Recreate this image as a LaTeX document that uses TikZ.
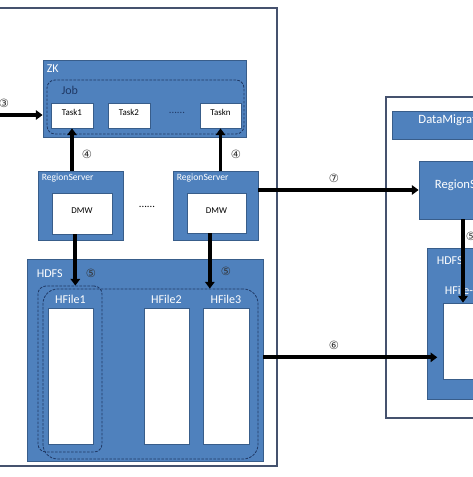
\documentclass[tikz,border=0pt]{standalone}
\usepackage{fontspec}
\setmainfont{Carlito}
\newfontfamily\circfont{DejaVu Sans}
\usetikzlibrary{arrows.meta}
\usetikzlibrary{positioning}
\usetikzlibrary{fit}

\definecolor{boxblue}{HTML}{4F81BD}
\definecolor{boxedge}{HTML}{385D8A}
\definecolor{frameedge}{HTML}{45526E}
\definecolor{dashnavy}{HTML}{1F3864}

\tikzset{
    frame/.style={draw=frameedge, line width=1.1pt, inner sep=0pt},
    bluebox/.style={draw=boxedge, fill=boxblue, line width=0.6pt, inner sep=0pt, text=white},
    whitebox/.style={draw=boxedge, fill=white, line width=0.6pt, inner sep=0pt, font=\fontsize{6.7}{8}\selectfont},
    dashgroup/.style={draw=dashnavy, dash pattern=on 2pt off 1pt, line width=0.6pt, rounded corners=6pt, inner sep=0pt},
    boxlabel/.style={text=white, anchor=north west, inner sep=0pt, font=\fontsize{9}{10}\selectfont},
    flow/.style={line width=2.8pt, -{Triangle[length=5pt,width=7pt]}},
    stepno/.style={inner sep=0pt, text=black!80, font=\circfont\fontsize{8.5}{10}\selectfont},
    dots/.style={inner sep=0pt, font=\fontsize{8}{9}\selectfont}
}

\begin{document}
\begin{tikzpicture}[x=0.75pt, y=-0.75pt]
    \useasboundingbox (0,0) rectangle (473,477);
    \clip (0,0) rectangle (473,477);

    % source cluster
    \node[frame, fit={(-10,8) (277,466)}] (srcframe) {};
    \node[bluebox, fit={(43,60) (246,137)}] (zk) {};
    \node[boxlabel, below right=4pt and 3pt of zk.north west] (zklabel) {ZK};
    \node[dashgroup, fit={(47,80) (244,134)}] (job) {};
    \node[boxlabel, below right=5pt and 11pt of job.north west, text=dashnavy] (joblabel) {Job};
    \node[whitebox, fit={(51,103) (93,128)}] (t1) {Task1};
    \node[whitebox, fit={(108,103) (150,128)}] (t2) {Task2};
    \node[whitebox, fit={(200,103) (241,128)}] (tn) {Taskn};
    \node[dots, text=dashnavy] (taskdots) at (177,113) {......};

    \node[bluebox, fit={(38,171) (123,240)}] (rs1) {};
    \node[boxlabel, below right=2.5pt and 3pt of rs1.north west, font=\fontsize{7.2}{8}\selectfont] (rs1label) {RegionServer};
    \node[whitebox, fit={(52,193) (112,234)}] (dmw1) {DMW};
    \node[bluebox, fit={(173,171) (258,240)}] (rs2) {};
    \node[boxlabel, below right=2.5pt and 3pt of rs2.north west, font=\fontsize{7.2}{8}\selectfont] (rs2label) {RegionServer};
    \node[whitebox, fit={(187,193) (246,233)}] (dmw2) {DMW};
    \node[dots] (rsdots) at (147,207) {......};

    \node[bluebox, fit={(27,259) (263,461)}] (hdfs) {};
    \node[boxlabel, below right=8.5pt and 7.5pt of hdfs.north west] (hdfslabel) {HDFS};
    \node[dashgroup, fit={(38,286) (102,452)}] (grp1) {};
    \node[dashgroup, rounded corners=11pt, fit={(43,289) (258,459)}] (grp2) {};
    \node[whitebox, fit={(48,308) (93,444)}] (hf1) {};
    \node[whitebox, fit={(144,308) (189,444)}] (hf2) {};
    \node[whitebox, fit={(203,308) (249,444)}] (hf3) {};
    \node[boxlabel, anchor=south, above=2.5pt of hf1] (hf1label) {HFile1};
    \node[boxlabel, anchor=south, above=2.5pt of hf2] (hf2label) {HFile2};
    \node[boxlabel, anchor=south, above=2.5pt of hf3] (hf3label) {HFile3};

    % target cluster
    \node[frame, fit={(386,97) (560,418)}] (dstframe) {};
    \node[bluebox, fit={(392,111) (519,139)}, font=\fontsize{9.5}{10}\selectfont] (dm) {DataMigration};
    \node[bluebox, fit={(419,161) (519,219)}, font=\fontsize{9.5}{10}\selectfont] (rrs) {RegionServer};
    \node[bluebox, fit={(427,248) (540,399)}] (rhdfs) {};
    \node[boxlabel, below right=6.5pt and 7.5pt of rhdfs.north west] (rhdfslabel) {HDFS};
    \node[whitebox, fit={(443,303) (530,379)}] (rhf) {};
    \node[boxlabel, anchor=south west, above right=6pt and 1.5pt of rhf.north west] (rhflabel) {HFile-};

    % flows
    \coordinate (client) at (-20,115);
    \draw[flow] (client) -- (client -| zk.west);
    \draw[flow] (t1.south |- rs1.north) -- (t1.south);
    \draw[flow] (tn.south |- rs2.north) -- (tn.south);
    \draw[flow] ([xshift=-5pt]dmw1.south) -- ([xshift=-5pt]dmw1.south |- grp1.north);
    \draw[flow] ([xshift=-5pt]dmw2.south) -- ([xshift=-5pt]dmw2.south |- grp2.north);
    \draw[flow] (rs2.east |- rrs.west) -- (rrs.west);
    \draw[flow, shorten >=4pt] ([yshift=2pt]hdfs.east) -- ([yshift=2pt]hdfs.east -| rhf.west);
    \draw[flow] ([xshift=-4.5pt]rrs.south) -- ([xshift=-4.5pt]rrs.south |- rhf.north);

    \node[stepno] (s3) at (4,103) {③};
    \node[stepno] (s4a) at (87,154) {④};
    \node[stepno] (s4b) at (236,154) {④};
    \node[stepno] (s5a) at (91,273) {⑤};
    \node[stepno] (s5b) at (226,271) {⑤};
    \node[stepno] (s7) at (334,178) {⑦};
    \node[stepno] (s6) at (334,345) {⑥};
    \node[stepno] (s5c) at (471,236) {⑤};
\end{tikzpicture}
\end{document}
